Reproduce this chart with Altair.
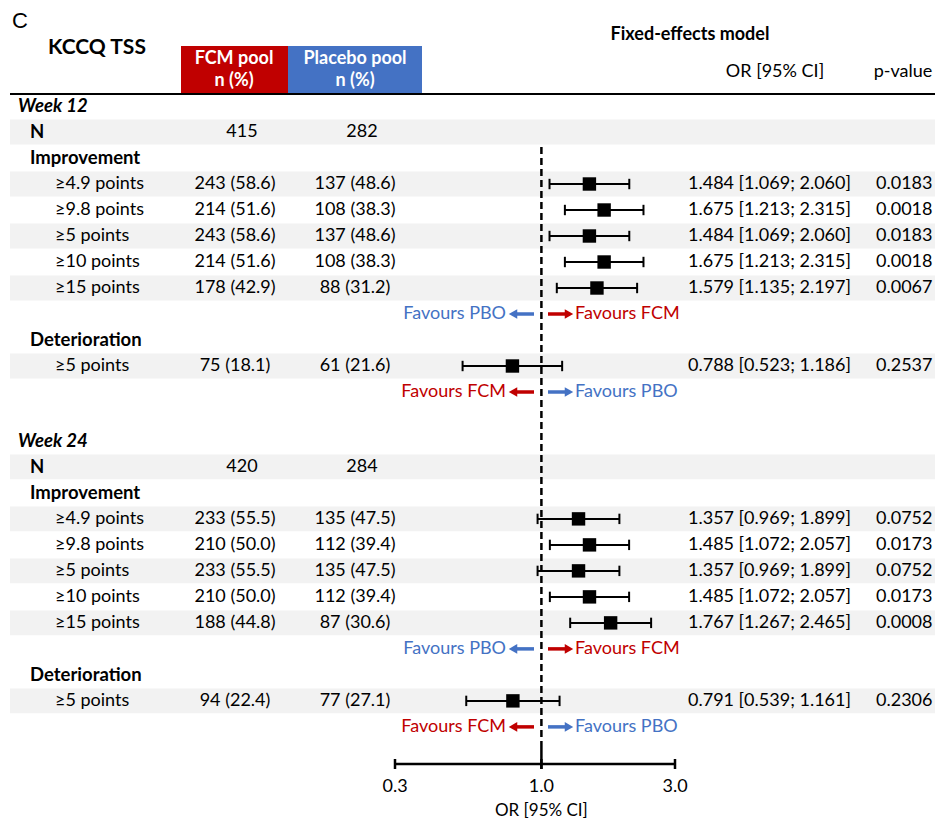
import math
import pandas as pd
import altair as alt

# ---------------- data ----------------
outcomes = ["≥4.9 points", "≥9.8 points", "≥5 points", "≥10 points", "≥15 points"]
det_label = "≥5 points"

weeks = ["Week 12", "Week 24"]
n_fcm = [415, 420]
n_pbo = [282, 284]

w12_fcm_n = [243, 214, 243, 214, 178]
w12_fcm_pct = [58.6, 51.6, 58.6, 51.6, 42.9]
w12_pbo_n = [137, 108, 137, 108, 88]
w12_pbo_pct = [48.6, 38.3, 48.6, 38.3, 31.2]
w12_or = [1.484, 1.675, 1.484, 1.675, 1.579]
w12_lo = [1.069, 1.213, 1.069, 1.213, 1.135]
w12_hi = [2.060, 2.315, 2.060, 2.315, 2.197]
w12_p = ["0.0183", "0.0018", "0.0183", "0.0018", "0.0067"]
w12_det = dict(fn=75, fp=18.1, pn=61, pp=21.6, orv=0.788, lo=0.523, hi=1.186, p="0.2537")

w24_fcm_n = [233, 210, 233, 210, 188]
w24_fcm_pct = [55.5, 50.0, 55.5, 50.0, 44.8]
w24_pbo_n = [135, 112, 135, 112, 87]
w24_pbo_pct = [47.5, 39.4, 47.5, 39.4, 30.6]
w24_or = [1.357, 1.485, 1.357, 1.485, 1.767]
w24_lo = [0.969, 1.072, 0.969, 1.072, 1.267]
w24_hi = [1.899, 2.057, 1.899, 2.057, 2.465]
w24_p = ["0.0752", "0.0173", "0.0752", "0.0173", "0.0008"]
w24_det = dict(fn=94, fp=22.4, pn=77, pp=27.1, orv=0.791, lo=0.539, hi=1.161, p="0.2306")

fav_improve = ["Favours PBO", "Favours FCM"]
fav_deter = ["Favours FCM", "Favours PBO"]

axis_ticks = [0.3, 1.0, 3.0]
axis_labels = ["0.3", "1.0", "3.0"]
axis_title = "OR [95% CI]"

panel_letter = "C"
table_title = "KCCQ TSS"
group_heads = ["FCM pool", "Placebo pool"]
group_sub = "n (%)"
model_title = "Fixed-effects model"
col_heads = ["OR [95% CI]", "p-value"]

RED = "#C00000"
BLUE = "#4472C4"
BAND = "#F2F2F2"
fav_color = {"Favours PBO": BLUE, "Favours FCM": RED}
FONT = "Lato"

# ---------------- layout ----------------
W, H = 927, 813
PITCH = 26.0
ROW0 = 98.0          # pixel of row 0
WEEK2_OFF = 12.88    # row offset of the second block
X03, X3 = 387.0, 667.0
k = (X3 - X03) / math.log(10)
x_dom = [0.3 * math.exp(-X03 / k), 0.3 * math.exp((W - X03) / k)]
y_dom = [-ROW0 / PITCH, (H - ROW0) / PITCH]

xs = alt.Scale(type="log", domain=x_dom, nice=False, zero=False)
ys = alt.Scale(domain=y_dom, reverse=True, nice=False, zero=False)

AX_Y = 756

# ---------------- build table ----------------
recs = []
favs = []


def block(off, week, nf, npb, fn, fp, pn, pp, orv, lo, hi, p, det):
    recs.append(dict(row=off + 0, kind="week", label=week))
    recs.append(dict(row=off + 1, kind="section", label="N", nf=str(nf), npb=str(npb), band=True))
    recs.append(dict(row=off + 2, kind="section", label="Improvement"))
    for i, lab in enumerate(outcomes):
        recs.append(dict(row=off + 3 + i, kind="item", label=lab,
                         fcm=f"{fn[i]} ({fp[i]:.1f})", pbo=f"{pn[i]} ({pp[i]:.1f})",
                         ort=f"{orv[i]:.3f} [{lo[i]:.3f}; {hi[i]:.3f}]", p=p[i],
                         OR=orv[i], lo=lo[i], hi=hi[i], band=(i % 2 == 0)))
    favs.append(dict(row=off + 8, lt=fav_improve[0], rt=fav_improve[1]))
    recs.append(dict(row=off + 9, kind="section", label="Deterioration"))
    recs.append(dict(row=off + 10, kind="item", label=det_label,
                     fcm=f"{det['fn']} ({det['fp']:.1f})", pbo=f"{det['pn']} ({det['pp']:.1f})",
                     ort=f"{det['orv']:.3f} [{det['lo']:.3f}; {det['hi']:.3f}]", p=det["p"],
                     OR=det["orv"], lo=det["lo"], hi=det["hi"], band=True))
    favs.append(dict(row=off + 11, lt=fav_deter[0], rt=fav_deter[1]))


block(0, weeks[0], n_fcm[0], n_pbo[0], w12_fcm_n, w12_fcm_pct, w12_pbo_n, w12_pbo_pct,
      w12_or, w12_lo, w12_hi, w12_p, w12_det)
block(WEEK2_OFF, weeks[1], n_fcm[1], n_pbo[1], w24_fcm_n, w24_fcm_pct, w24_pbo_n, w24_pbo_pct,
      w24_or, w24_lo, w24_hi, w24_p, w24_det)

df = pd.DataFrame(recs)
df["band"] = df["band"].fillna(False).astype(bool)
df["b1"] = df["row"] - 0.48
df["b2"] = df["row"] + 0.48
df["c1"] = df["row"] - 0.2
df["c2"] = df["row"] + 0.2
fv = pd.DataFrame(favs)
fv["lc"] = fv["lt"].map(fav_color)
fv["rc"] = fv["rt"].map(fav_color)

base = alt.Chart(df)
Y = alt.Y("row:Q", scale=ys, axis=None)

layers = []
# bands
layers.append(base.transform_filter("datum.band").mark_rect(color=BAND).encode(
    x=alt.value(2), x2=alt.value(W), y=alt.Y("b1:Q", scale=ys, axis=None), y2="b2:Q"))

# row labels
layers.append(base.transform_filter("datum.kind == 'week'").mark_text(
    font=FONT, fontSize=18.5, fontWeight="bold", fontStyle="italic", align="left", baseline="middle"
).encode(x=alt.value(10), y=Y, text="label:N"))
layers.append(base.transform_filter("datum.kind == 'section'").mark_text(
    font=FONT, fontSize=18.5, fontWeight="bold", align="left", baseline="middle"
).encode(x=alt.value(22), y=Y, text="label:N"))
layers.append(base.transform_filter("datum.kind == 'item'").mark_text(
    font=FONT, fontSize=18, align="left", baseline="middle"
).encode(x=alt.value(47), y=Y, text="label:N"))

txt = dict(font=FONT, fontSize=18, baseline="middle")
layers.append(base.transform_filter("isValid(datum.nf)").mark_text(align="center", **txt).encode(
    x=alt.value(234), y=Y, text="nf:N"))
layers.append(base.transform_filter("isValid(datum.npb)").mark_text(align="center", **txt).encode(
    x=alt.value(354), y=Y, text="npb:N"))
items = base.transform_filter("datum.kind == 'item'")
layers.append(items.mark_text(align="center", **txt).encode(x=alt.value(227), y=Y, text="fcm:N"))
layers.append(items.mark_text(align="center", **txt).encode(x=alt.value(347), y=Y, text="pbo:N"))
layers.append(items.mark_text(align="left", **txt).encode(x=alt.value(680), y=Y, text="ort:N"))
layers.append(items.mark_text(align="left", **txt).encode(x=alt.value(868), y=Y, text="p:N"))

# reference dashed line at OR = 1
ref = alt.Chart(pd.DataFrame({"v": [1.0]}))
layers.append(ref.mark_rule(color="black", strokeWidth=2.5, strokeDash=[7, 4]).encode(
    x=alt.X("v:Q", scale=xs, axis=None), y=alt.value(139), y2=alt.value(AX_Y - 20)))
layers.append(ref.mark_rule(color="black", strokeWidth=2.5).encode(
    x=alt.X("v:Q", scale=xs, axis=None), y=alt.value(AX_Y - 20), y2=alt.value(AX_Y + 5)))

# forest: CI lines, caps, squares
layers.append(items.mark_rule(color="black", strokeWidth=2).encode(
    x=alt.X("lo:Q", scale=xs, axis=None), x2="hi:Q", y=Y))
layers.append(items.mark_rule(color="black", strokeWidth=2).encode(
    x=alt.X("lo:Q", scale=xs, axis=None), y=alt.Y("c1:Q", scale=ys, axis=None), y2="c2:Q"))
layers.append(items.mark_rule(color="black", strokeWidth=2).encode(
    x=alt.X("hi:Q", scale=xs, axis=None), y=alt.Y("c1:Q", scale=ys, axis=None), y2="c2:Q"))
layers.append(items.mark_square(color="black", size=180, opacity=1).encode(
    x=alt.X("OR:Q", scale=xs, axis=None), y=Y))

# favours labels and arrows
fb = alt.Chart(fv)
FY = alt.Y("row:Q", scale=ys, axis=None)
layers.append(fb.mark_text(font=FONT, fontSize=18, align="right", baseline="middle").encode(
    x=alt.value(498), y=FY, text="lt:N", color=alt.Color("lc:N", scale=None)))
layers.append(fb.mark_text(font=FONT, fontSize=18, align="left", baseline="middle").encode(
    x=alt.value(567), y=FY, text="rt:N", color=alt.Color("rc:N", scale=None)))
layers.append(fb.mark_rule(strokeWidth=3.5).encode(
    x=alt.value(526), x2=alt.value(506), y=FY, color=alt.Color("lc:N", scale=None)))
layers.append(fb.mark_point(shape="triangle-left", filled=True, size=95, opacity=1).encode(
    x=alt.value(505), y=FY, color=alt.Color("lc:N", scale=None)))
layers.append(fb.mark_rule(strokeWidth=3.5).encode(
    x=alt.value(540), x2=alt.value(560), y=FY, color=alt.Color("rc:N", scale=None)))
layers.append(fb.mark_point(shape="triangle-right", filled=True, size=95, opacity=1).encode(
    x=alt.value(561), y=FY, color=alt.Color("rc:N", scale=None)))

# bottom axis
ax = alt.Chart(pd.DataFrame({"v": axis_ticks, "lab": axis_labels}))
layers.append(alt.Chart(pd.DataFrame({"a": [axis_ticks[0]], "b": [axis_ticks[-1]]})).mark_rule(
    color="black", strokeWidth=2.5).encode(
    x=alt.X("a:Q", scale=xs, axis=None), x2="b:Q", y=alt.value(AX_Y)))
layers.append(ax.mark_rule(color="black", strokeWidth=2.5).encode(
    x=alt.X("v:Q", scale=xs, axis=None), y=alt.value(AX_Y - 5), y2=alt.value(AX_Y + 5)))
layers.append(ax.mark_text(font=FONT, fontSize=18, baseline="middle").encode(
    x=alt.X("v:Q", scale=xs, axis=None), y=alt.value(AX_Y + 23), text="lab:N"))
layers.append(alt.Chart(pd.DataFrame({"v": [1.0], "t": [axis_title]})).mark_text(
    font=FONT, fontSize=17, baseline="middle").encode(
    x=alt.X("v:Q", scale=xs, axis=None), y=alt.value(AX_Y + 47), text="t:N"))


# header
def label(t, x, y, **kw):
    return alt.Chart(pd.DataFrame({"t": [t]})).mark_text(baseline="middle", **kw).encode(
        text="t:N", x=alt.value(x), y=alt.value(y))


def box(x1, x2, color):
    return alt.Chart(pd.DataFrame({"t": [0]})).mark_rect(color=color).encode(
        x=alt.value(x1), x2=alt.value(x2), y=alt.value(38), y2=alt.value(86))


layers.append(box(173, 280, RED))
layers.append(box(280, 414, BLUE))
layers.append(alt.Chart(pd.DataFrame({"t": [0]})).mark_rule(color="black", strokeWidth=2).encode(
    x=alt.value(2), x2=alt.value(W), y=alt.value(86)))
layers.append(label(panel_letter, 4, 13, font="Liberation Sans", fontSize=22, align="left"))
layers.append(label(table_title, 89, 40, font=FONT, fontSize=21, fontWeight="bold", align="center"))
layers.append(label(group_heads[0], 226, 51, font=FONT, fontSize=18, fontWeight="bold", align="center", color="white"))
layers.append(label(group_sub, 226, 73, font=FONT, fontSize=18, fontWeight="bold", align="center", color="white"))
layers.append(label(group_heads[1], 347, 51, font=FONT, fontSize=18, fontWeight="bold", align="center", color="white"))
layers.append(label(group_sub, 347, 73, font=FONT, fontSize=18, fontWeight="bold", align="center", color="white"))
layers.append(label(model_title, 682, 27, font=FONT, fontSize=18, fontWeight="bold", align="center"))
layers.append(label(col_heads[0], 767, 64, font=FONT, fontSize=18, align="center"))
layers.append(label(col_heads[1], 895, 64, font=FONT, fontSize=18, align="center"))

chart = alt.layer(*layers).properties(
    width=W, height=H, padding=0, background="white",
    autosize=alt.AutoSizeParams(type="none"),
).configure_view(stroke=None)

chart.save("out.html", embed_options={"renderer": "svg", "actions": False})
